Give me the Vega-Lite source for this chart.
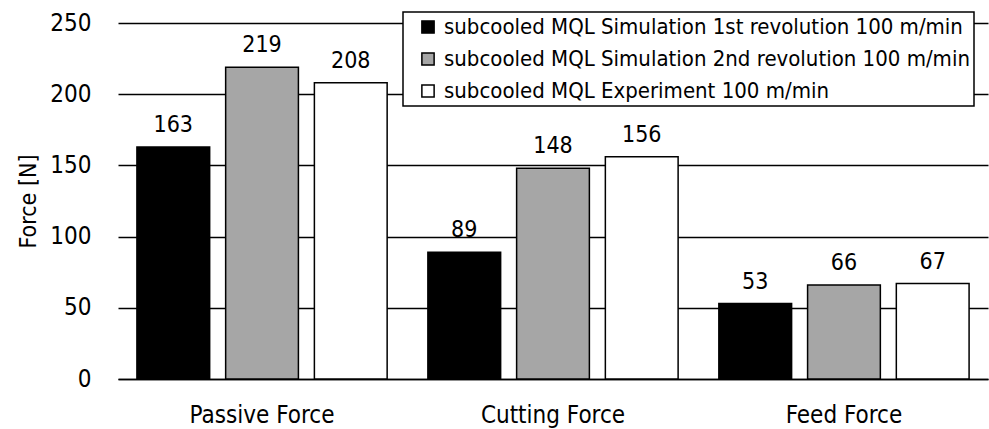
{
  "$schema": "https://vega.github.io/schema/vega-lite/v6.json",
  "autosize": {"type": "none"},
  "width": 870,
  "height": 356,
  "padding": {"left": 118, "top": 23, "right": 1, "bottom": 50},
  "background": "white",
  "config": {
    "font": "DejaVu Sans Condensed",
    "view": {"stroke": null},
    "legend": {"strokeWidth": 1.5}
  },
  "data": {
    "values": [
      {"force": "Passive Force", "series": "subcooled MQL Simulation 1st revolution 100 m/min", "value": 163},
      {"force": "Passive Force", "series": "subcooled MQL Simulation 2nd revolution 100 m/min", "value": 219},
      {"force": "Passive Force", "series": "subcooled MQL Experiment 100 m/min", "value": 208},
      {"force": "Cutting Force", "series": "subcooled MQL Simulation 1st revolution 100 m/min", "value": 89},
      {"force": "Cutting Force", "series": "subcooled MQL Simulation 2nd revolution 100 m/min", "value": 148},
      {"force": "Cutting Force", "series": "subcooled MQL Experiment 100 m/min", "value": 156},
      {"force": "Feed Force", "series": "subcooled MQL Simulation 1st revolution 100 m/min", "value": 53},
      {"force": "Feed Force", "series": "subcooled MQL Simulation 2nd revolution 100 m/min", "value": 66},
      {"force": "Feed Force", "series": "subcooled MQL Experiment 100 m/min", "value": 67}
    ]
  },
  "encoding": {
    "x": {
      "field": "force", "type": "nominal", "sort": ["Passive Force", "Cutting Force", "Feed Force"],
      "scale": {"paddingInner": 0.14, "paddingOuter": 0.065},
      "axis": {"title": null, "labelAngle": 0, "labelFontSize": 24, "labelColor": "black", "labelPadding": 24, "ticks": false, "domain": true, "domainColor": "black", "domainWidth": 1.5}
    },
    "xOffset": {
      "field": "series", "type": "nominal",
      "sort": ["subcooled MQL Simulation 1st revolution 100 m/min", "subcooled MQL Simulation 2nd revolution 100 m/min", "subcooled MQL Experiment 100 m/min"],
      "scale": {"paddingInner": 0.18}
    },
    "y": {
      "field": "value", "type": "quantitative",
      "scale": {"domain": [0, 250]},
      "axis": {"title": "Force [N]", "titleFontSize": 23, "titleFontWeight": "normal", "titleColor": "black", "titlePadding": 9, "values": [0, 50, 100, 150, 200, 250], "labelFontSize": 24, "labelColor": "black", "labelPadding": 27, "ticks": false, "domain": false, "grid": true, "gridColor": "black", "gridWidth": 1.5, "gridOpacity": 1}
    }
  },
  "layer": [
    {
      "mark": {"type": "bar", "stroke": "black", "strokeWidth": 1.5},
      "encoding": {
        "color": {
          "field": "series", "type": "nominal",
          "sort": ["subcooled MQL Simulation 1st revolution 100 m/min", "subcooled MQL Simulation 2nd revolution 100 m/min", "subcooled MQL Experiment 100 m/min"],
          "scale": {"domain": ["subcooled MQL Simulation 1st revolution 100 m/min", "subcooled MQL Simulation 2nd revolution 100 m/min", "subcooled MQL Experiment 100 m/min"], "range": ["black", "#a6a6a6", "white"]},
          "legend": {
            "title": null, "orient": "none", "legendX": 285, "legendY": -11,
            "symbolType": "square", "symbolSize": 150, "symbolStrokeColor": "black", "symbolStrokeWidth": 1.5, "symbolOffset": 10,
            "labelFontSize": 22, "labelColor": "black", "labelLimit": 700, "labelOffset": 5,
            "rowPadding": 10, "padding": 4, "fillColor": "white", "strokeColor": "black"
          }
        }
      }
    },
    {
      "mark": {"type": "text", "baseline": "alphabetic", "dy": -15, "fontSize": 23, "color": "black"},
      "encoding": {"text": {"field": "value", "type": "quantitative"}}
    }
  ]
}
